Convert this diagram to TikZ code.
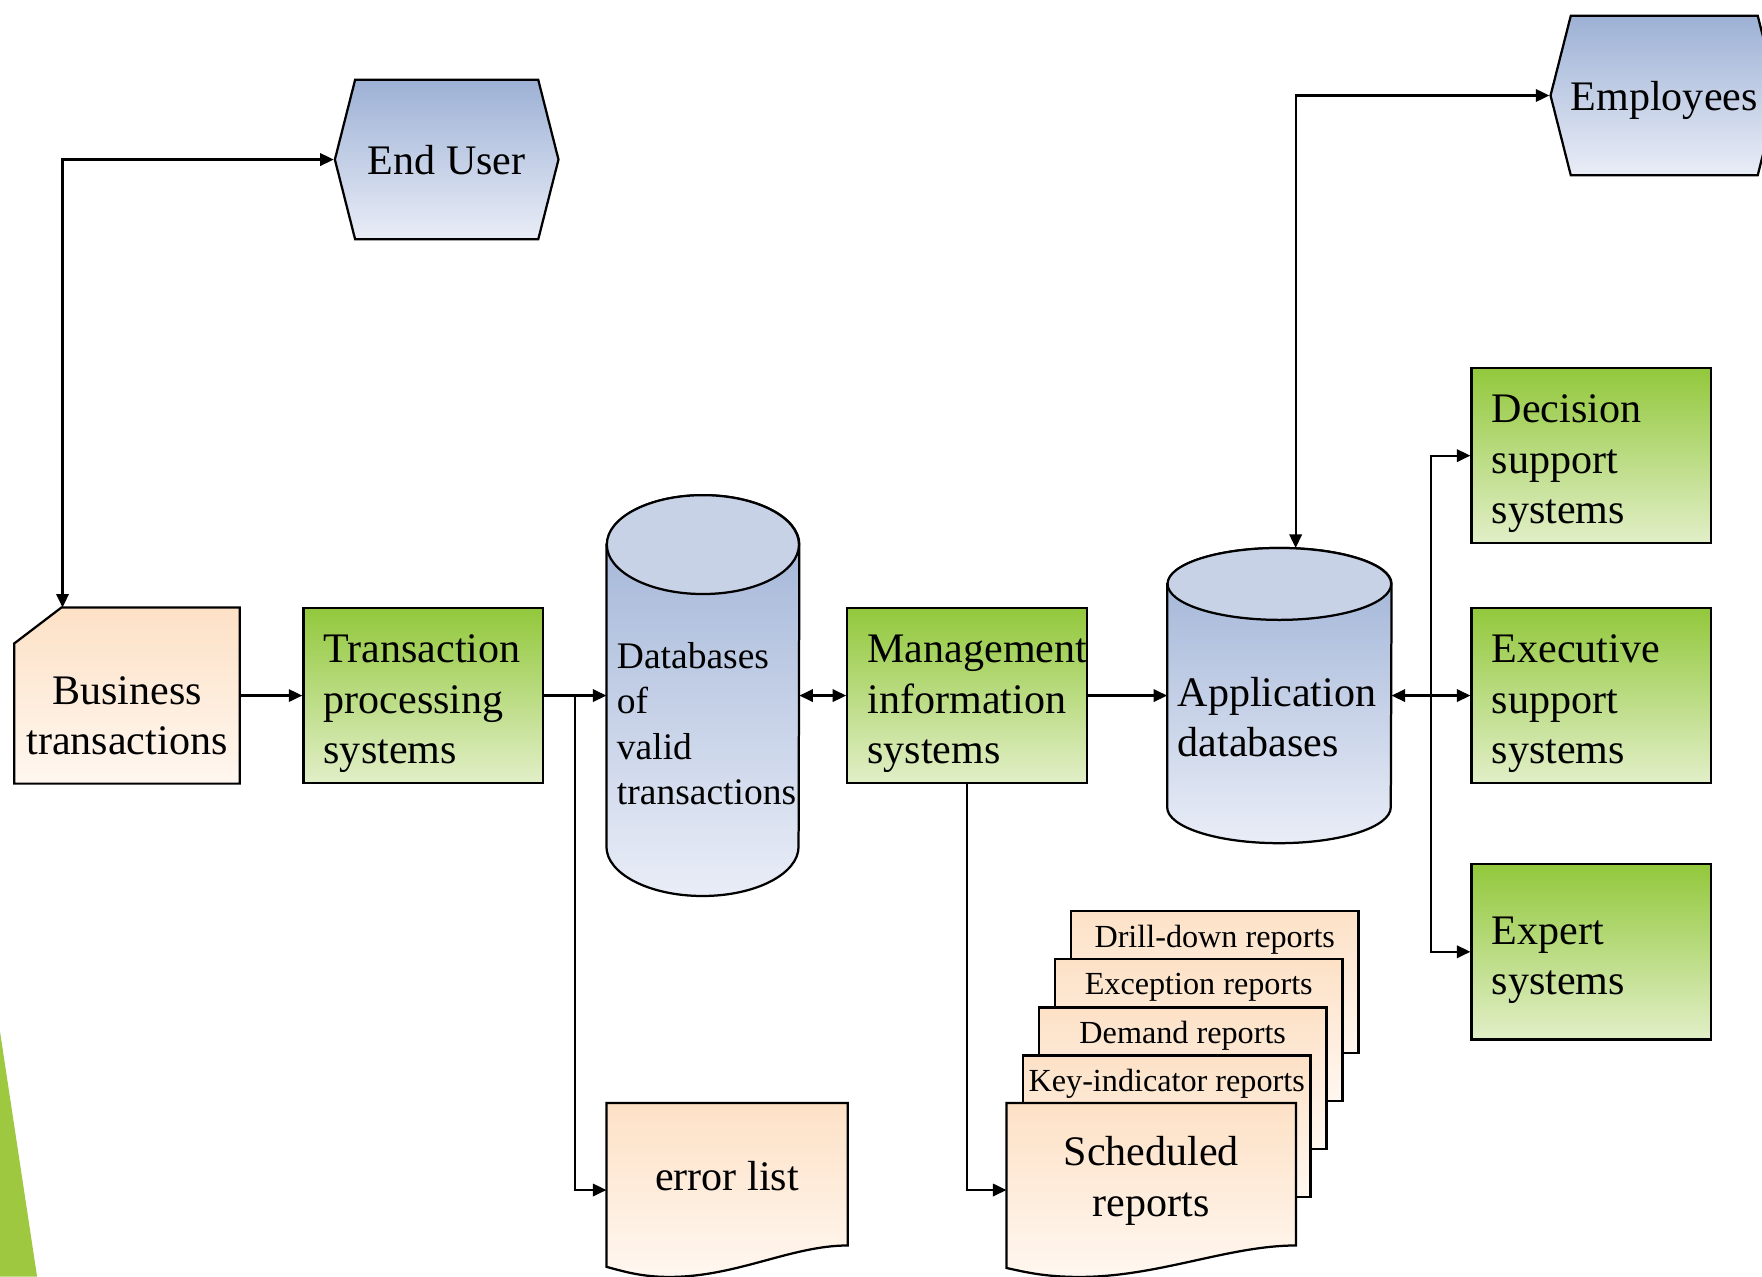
\documentclass[tikz,border=0pt]{standalone}
\usepackage{fontspec}
\setmainfont{Liberation Serif}
\usetikzlibrary{calc,positioning,arrows.meta,shapes.symbols}

\definecolor{greentop}{RGB}{146,200,60}
\definecolor{greenbot}{RGB}{226,239,200}
\definecolor{peachtop}{RGB}{253,225,198}
\definecolor{peachbot}{RGB}{255,247,240}
\definecolor{bluetop}{RGB}{157,177,213}
\definecolor{bluebot}{RGB}{233,237,247}
\definecolor{bluecap}{RGB}{199,210,230}
\definecolor{wedgegreen}{RGB}{157,200,64}

\begin{document}
\begin{tikzpicture}[x=0.2mm,y=0.2mm,>={Triangle[length=2.4mm,width=2.2mm]}]
\tikzstyle{big}=[font=\fontsize{21.3}{25.6}\selectfont]
\tikzstyle{system}=[big,draw,line width=0.4mm,top color=greentop,bottom color=greenbot,minimum width=42.6mm,minimum height=31.2mm,inner xsep=3.6mm,text width=35.4mm,align=flush left,execute at begin node={\rule{0pt}{7.9mm}}]
\tikzstyle{bluefill}=[draw,line width=0.4mm,top color=bluetop,bottom color=bluebot]
\tikzstyle{entity}=[bluefill,big,signal,signal to=west and east,signal pointer angle=151.5,minimum width=39.8mm,minimum height=28.4mm,inner xsep=0pt,text depth=0pt]
\tikzstyle{holder}=[inner sep=0pt,draw=none]
\tikzstyle{paper}=[draw,line width=0.4mm,top color=peachtop,bottom color=peachbot]
\tikzstyle{report}=[paper,inner sep=0pt,minimum width=51.2mm,minimum height=25.2mm]
\tikzstyle{flow}=[line width=0.4mm]

\useasboundingbox (0,0) rectangle (1568,1136);
\fill[wedgegreen] (0,0) -- (0,218) -- (33,0) -- cycle;

% ========= people
\node (enduser) [entity] at (397.5,994) {End User};
\node (employees) [entity] at (1481,1051) {Employees};

% ========= main line
\node (biz) [holder,minimum width=40mm,minimum height=31.2mm] at (113,517) {};
\shadedraw[paper] ($(biz.north west)+(0,-32)$) -- ($(biz.north west)+(42,0)$) -- (biz.north east) -- (biz.south east) -- (biz.south west) -- cycle;
\node (biztext) [big,align=center] at ($(biz.center)+(0,-18)$) {Business\\transactions};

\node (tps) [system] at (376.5,517) {Transaction\\processing\\systems};

\node (db) [holder,minimum width=34.2mm,minimum height=71.2mm] at (625.5,517) {};
\shadedraw[bluefill] ($(db.north west)+(0,-44)$) -- ($(db.south west)+(0,44)$) arc[start angle=180,end angle=360,x radius=17.1mm,y radius=8.8mm] -- ($(db.north east)+(0,-44)$) arc[start angle=0,end angle=180,x radius=17.1mm,y radius=8.8mm] -- cycle;
\filldraw[fill=bluecap,line width=0.4mm] ($(db.north)+(0,-44)$) ellipse[x radius=17.1mm,y radius=8.8mm];
\node (dbtext) [anchor=west,align=left,inner xsep=1.8mm,font=\fontsize{19}{22.8}\selectfont] at ($(db.west)+(0,-25)$) {Databases\\of\\valid\\transactions};

\node (mis) [system] at (860.5,517) {Management\\information\\systems};

\node (appdb) [holder,minimum width=39.8mm,minimum height=52.4mm] at (1138.5,517) {};
\shadedraw[bluefill] ($(appdb.north west)+(0,-32)$) -- ($(appdb.south west)+(0,32)$) arc[start angle=180,end angle=360,x radius=19.9mm,y radius=6.4mm] -- ($(appdb.north east)+(0,-32)$) arc[start angle=0,end angle=180,x radius=19.9mm,y radius=6.4mm] -- cycle;
\filldraw[fill=bluecap,line width=0.4mm] ($(appdb.north)+(0,-32)$) ellipse[x radius=19.9mm,y radius=6.4mm];
\node (appdbtext) [big,anchor=west,align=left,inner xsep=1.8mm] at ($(appdb.west)+(0,-19)$) {Application\\databases};

\node (dss) [system] at (1416,730.5) {Decision\\support\\systems};
\node (ess) [system] at (1416,517) {Executive\\support\\systems};
\node (expert) [system] at (1416,289) {Expert\\systems};

% ========= outputs
\node (errlist) [holder,minimum width=42.8mm,minimum height=30.8mm] at (647,77) {};
\shadedraw[paper] (errlist.north west) -- (errlist.north east) -- ($(errlist.south east)+(0,28)$) .. controls +(-50,0) and +(60,0) .. ($(errlist.south west)+(56,0)$) .. controls +(-25,0) and +(15,-4) .. ($(errlist.south west)+(0,9)$) -- cycle;
\node (errtext) [big] at ($(errlist.center)+(0,12)$) {error list};

\foreach \i/\txt in {0/Drill-down reports,1/Exception reports,2/Demand reports,3/Key-indicator reports}{
  \node (rep\i) [report] at ({1081-14.25*\i},{262-42.75*\i}) {};
  \node (reptext\i) [below=1.6mm of rep\i.north,inner sep=1mm,font=\fontsize{16.3}{19}\selectfont] {\txt};
}

\node (sched) [holder,minimum width=51.4mm,minimum height=30.8mm] at (1024.5,77) {};
\shadedraw[paper] (sched.north west) -- (sched.north east) -- ($(sched.south east)+(0,28)$) .. controls +(-60,0) and +(70,0) .. ($(sched.south west)+(65,0)$) .. controls +(-30,0) and +(18,-4) .. ($(sched.south west)+(0,8)$) -- cycle;
\node (schedtext) [big,align=center] at ($(sched.center)+(0,8)$) {Scheduled\\reports};

% ====== connections
\draw [flow,<->] (enduser.west) -| ($(biz.north west)+(43,0)$);
\draw [flow,->] (biz.east) -- (tps.west);
\draw [flow,->] (tps.east) -- (db.west);
\draw [flow,->] ($(tps.east)!0.5!(db.west)$) |- (errlist.west);
\draw [flow,<->] (db.east) -- (mis.west);
\draw [flow,->] (mis.east) -- (appdb.west);
\draw [flow,->] (mis.south) |- (sched.west);
\draw [flow,<->] (appdb.east) -- (ess.west);
\draw [flow,->] ($(appdb.east)!0.5!(ess.west)$) |- (dss.west);
\draw [flow,->] ($(appdb.east)!0.5!(ess.west)$) |- (expert.west);
\draw [flow,<->] (employees.west) -| ($(appdb.north)+(14.5,0)$);
\end{tikzpicture}
\end{document}
